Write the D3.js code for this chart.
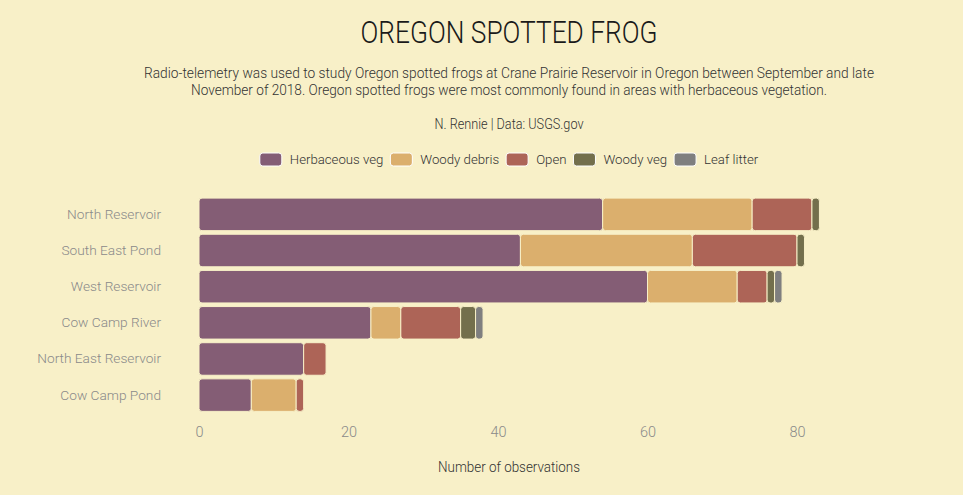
<!DOCTYPE html>
<meta charset="utf-8">
<script src="https://d3js.org/d3.v7.min.js"></script>
<style>
    body { margin: 0; background: #f8f0c8; }
    text { font-family: Roboto, "Open Sans", sans-serif; font-weight: 300; }
</style>
<svg width="963" height="495"></svg>
<script>

    const sites = ["North Reservoir", "South East Pond", "West Reservoir",
        "Cow Camp River", "North East Reservoir", "Cow Camp Pond"];
    const habitats = ["Herbaceous veg", "Woody debris", "Open", "Woody veg", "Leaf litter"];
    const colours = ["#845d75", "#dbaf6d", "#ad6457", "#736f4c", "#7f7f7f"];

    // counts per site, same order as sites
    const herbaceous = [54, 43, 60, 23, 14, 7];
    const woodyDebris = [20, 23, 12, 4, 0, 6];
    const open = [8, 14, 4, 8, 3, 1];
    const woodyVeg = [1, 1, 1, 2, 0, 0];
    const leafLitter = [0, 0, 1, 1, 0, 0];

    const xTicks = [0, 20, 40, 60, 80];

    const bg = "#f8f0c8";
    const width = 963, height = 495;
    const cx = 509;

    const table = sites.map((s, i) => ({
        site: s,
        "Herbaceous veg": herbaceous[i],
        "Woody debris": woodyDebris[i],
        "Open": open[i],
        "Woody veg": woodyVeg[i],
        "Leaf litter": leafLitter[i]
    }));

    const svg = d3.select("svg")
        .style("background", bg);

    svg.append("rect")
        .attr("width", width)
        .attr("height", height)
        .attr("fill", bg);

    const x = d3.scaleLinear()
        .domain([0, 80])
        .range([199, 797]);

    const y = d3.scaleBand()
        .domain(sites)
        .range([194.5, 415])
        .padding(0.1);

    const colour = d3.scaleOrdinal()
        .domain(habitats)
        .range(colours);

    const stacked = d3.stack().keys(habitats)(table);

    // titles
    svg.append("text")
        .attr("x", cx)
        .attr("y", 43)
        .attr("text-anchor", "middle")
        .attr("fill", "#1a1a1a")
        .attr("textLength", 297)
        .attr("lengthAdjust", "spacingAndGlyphs")
        .style("font-size", "32px")
        .text("OREGON SPOTTED FROG");

    const subtitle = ["Radio-telemetry was used to study Oregon spotted frogs at Crane Prairie Reservoir in Oregon between September and late",
        "November of 2018. Oregon spotted frogs were most commonly found in areas with herbaceous vegetation."];
    const subLen = [730, 636];

    svg.selectAll(".sub")
        .data(subtitle)
        .enter().append("text")
        .attr("class", "sub")
        .attr("x", cx)
        .attr("y", (d, i) => 78 + i * 17)
        .attr("text-anchor", "middle")
        .attr("fill", "#333")
        .attr("textLength", (d, i) => subLen[i])
        .attr("lengthAdjust", "spacingAndGlyphs")
        .style("font-size", "14px")
        .text(d => d);

    svg.append("text")
        .attr("x", cx)
        .attr("y", 129)
        .attr("text-anchor", "middle")
        .attr("fill", "#333")
        .attr("textLength", 149)
        .attr("lengthAdjust", "spacingAndGlyphs")
        .style("font-size", "14px")
        .text("N. Rennie | Data: USGS.gov");

    // legend
    const legend = svg.append("g");
    let lx = 0;
    habitats.forEach(h => {
        const g = legend.append("g").attr("transform", `translate(${lx},0)`);
        g.append("rect")
            .attr("x", 0)
            .attr("y", 153)
            .attr("width", 22)
            .attr("height", 13)
            .attr("rx", 3)
            .attr("fill", colour(h))
            .attr("stroke", "#fff")
            .attr("stroke-width", 1);
        const t = g.append("text")
            .attr("x", 30)
            .attr("y", 164)
            .attr("fill", "#333")
            .style("font-size", "13.2px")
            .text(h);
        lx += 30 + t.node().getComputedTextLength() + 7;
    });
    const legendW = lx - 7;
    legend.attr("transform", `translate(${cx - legendW / 2},0)`);

    // bars
    svg.append("g")
        .selectAll("g")
        .data(stacked)
        .enter().append("g")
        .attr("fill", d => colour(d.key))
        .selectAll("rect")
        .data(d => d.filter(p => p[1] > p[0]))
        .enter().append("rect")
        .attr("x", d => x(d[0]))
        .attr("y", d => y(d.data.site))
        .attr("width", d => x(d[1]) - x(d[0]))
        .attr("height", y.bandwidth())
        .attr("rx", 3)
        .attr("stroke", bg)
        .attr("stroke-width", 1);

    // axes
    const xAxis = svg.append("g")
        .attr("transform", "translate(0,421)")
        .call(d3.axisBottom(x).tickValues(xTicks).tickSize(0).tickPadding(6));
    xAxis.select(".domain").remove();
    xAxis.selectAll("text")
        .attr("fill", "#8a8a8a")
        .style("font-size", "14.5px")
        .style("font-family", null);

    const yAxis = svg.append("g")
        .attr("transform", "translate(161,0)")
        .call(d3.axisLeft(y).tickSize(0).tickPadding(0));
    yAxis.select(".domain").remove();
    yAxis.selectAll("text")
        .attr("fill", "#8a8a8a")
        .style("font-size", "13.7px")
        .style("font-family", null);

    svg.append("text")
        .attr("x", cx)
        .attr("y", 472)
        .attr("text-anchor", "middle")
        .attr("fill", "#333")
        .attr("textLength", 142)
        .attr("lengthAdjust", "spacingAndGlyphs")
        .style("font-size", "14.5px")
        .text("Number of observations");

</script>
